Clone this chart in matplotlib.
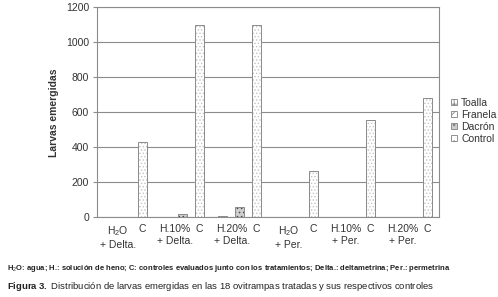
import numpy as np
import matplotlib
matplotlib.use("Agg")
import matplotlib.pyplot as plt
from matplotlib.patches import Patch

plt.rcParams['font.family'] = ['Liberation Sans', 'DejaVu Sans']
plt.rcParams['mathtext.fontset'] = 'custom'
plt.rcParams['mathtext.rm'] = 'Liberation Sans'
plt.rcParams['mathtext.bf'] = 'Liberation Sans:bold'
plt.rcParams['mathtext.it'] = 'Liberation Sans:italic'
plt.rcParams['hatch.linewidth'] = 0.6

# datos
grupos = ["H$_2$O\n+ Delta.", "H.10%\n+ Delta.", "H.20%\n+ Delta.",
          "H$_2$O\n+ Per.", "H.10%\n+ Per.", "H.20%\n+ Per."]
toalla = [0, 0, 5, 0, 0, 0]
franela = [0, 0, 0, 0, 0, 0]
dacron = [0, 20, 57, 0, 0, 0]
control = [430, 1100, 1100, 265, 555, 680]
yticks = [0, 200, 400, 600, 800, 1000, 1200]

x = np.arange(len(grupos))
w = 0.16

fig = plt.figure(figsize=(4.98, 2.97), dpi=100)
ax = fig.add_axes([0.1954, 0.2684, 0.6867, 0.7070])

series = [
    ("Toalla", toalla, 0.19, 'white', '++++', '#777777'),
    ("Franela", franela, 0.345, 'white', 'xxxx', '#777777'),
    ("Dacrón", dacron, 0.50, '#cfcfcf', '....', '#444444'),
    ("Control", control, 0.795, 'white', '.....', '#c4c4c4'),
]
proxies = []
for nombre, vals, off, fc, hatch, hc in series:
    ax.bar(x + off, vals, w, color=fc, edgecolor=hc, hatch=hatch,
           linewidth=0, zorder=2)
    ax.bar(x + off, vals, w, fill=False, edgecolor='#8a8a8a',
           linewidth=0.7, zorder=3)
    proxies.append(Patch(facecolor=fc, edgecolor='#808080', hatch=hatch[:2],
                         linewidth=0.6))

ax.set_xlim(0, 6)
ax.set_ylim(0, 1200)
ax.set_yticks(yticks)
ax.yaxis.grid(True, color='#8c8c8c', linewidth=0.8, zorder=0)
ax.set_axisbelow(True)

tick_pos = []
tick_lab = []
for i, g in enumerate(grupos):
    tick_pos += [i + 0.36, i + 0.795]
    tick_lab += [g, "C"]
ax.set_xticks(tick_pos)
ax.set_xticklabels(tick_lab, fontsize=7.5, color='#333333', va='top')
ax.tick_params(axis='x', length=0, pad=5)
ax.tick_params(axis='y', labelsize=7.5, labelcolor='#333333', length=3,
               color='#8c8c8c', pad=3)

for s in ax.spines.values():
    s.set_color('#8c8c8c')
    s.set_linewidth(0.8)

ax.set_ylabel("Larvas emergidas", fontsize=7.5, fontweight='bold',
              color='#333333', labelpad=5)

leg = ax.legend(proxies, [s[0] for s in series], loc='center left',
                bbox_to_anchor=(1.02, 0.46), frameon=False, fontsize=7.5,
                handlelength=0.55, handleheight=0.55, handletextpad=0.4,
                labelspacing=0.18, borderpad=0)
for t in leg.get_texts():
    t.set_color('#333333')

fig.text(0.014, 0.097,
         "H$_2$O: agua; H.: solución de heno; C: controles evaluados junto con los "
         "tratamientos; Delta.: deltametrina; Per.: permetrina",
         fontsize=5.5, fontweight='bold', color='#222222', va='center')
fig.text(0.014, 0.035,
         r"$\bf{Figura\ 3.}$ Distribución de larvas emergidas en las $\it{18}$ "
         "ovitrampas tratadas y sus respectivos controles",
         fontsize=6.8, color='#222222', va='center')

fig.savefig("out.png", dpi=100)
